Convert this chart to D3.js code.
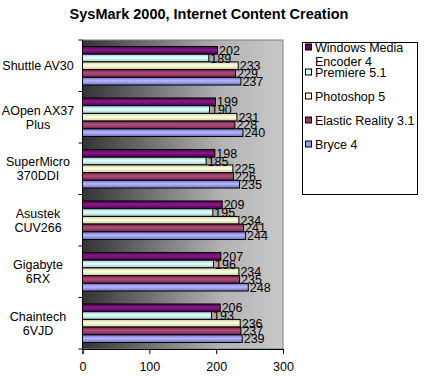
<!DOCTYPE html>
<html>
<head>
<meta charset="utf-8">
<script src="https://cdn.jsdelivr.net/npm/d3@7"></script>
<style>
  body { margin: 0; background: #fff; }
  text { font-family: "Liberation Sans", Arial, sans-serif; }
</style>
</head>
<body>
<div id="chart"></div>
<script>
// data
const boards = [["Shuttle AV30"], ["AOpen AX37", "Plus"], ["SuperMicro", "370DDI"],
                ["Asustek", "CUV266"], ["Gigabyte", "6RX"], ["Chaintech", "6VJD"]];
const series = ["Windows Media Encoder 4", "Premiere 5.1", "Photoshop 5", "Elastic Reality 3.1", "Bryce 4"];
const wme      = [202, 199, 198, 209, 207, 206];
const premiere = [189, 190, 185, 195, 196, 193];
const photoshop= [233, 231, 225, 234, 234, 236];
const elastic  = [229, 228, 226, 241, 235, 237];
const bryce    = [237, 240, 235, 244, 248, 239];
const xTicks = [0, 100, 200, 300];

const values = [wme, premiere, photoshop, elastic, bryce];
const colors = ["#660066", "#ccffff", "#ffffcc", "#993366", "#9999ff"];
const dark   = ["#4a004a", "#99cccc", "#cccc99", "#6e2449", "#6f6fc0"];
const light  = ["#8a1a8a", "#eaffff", "#ffffe8", "#b34d80", "#b8b8ff"];

const W = 424, H = 377;
const plot = {left: 82.5, right: 283, top: 40, bottom: 349};

const svg = d3.select("#chart").append("svg")
    .attr("width", W).attr("height", H);

const defs = svg.append("defs");
const bg = defs.append("linearGradient").attr("id", "bg")
    .attr("x1", 0).attr("x2", 1).attr("y1", 0).attr("y2", 0);
bg.append("stop").attr("offset", "0%").attr("stop-color", "#333");
bg.append("stop").attr("offset", "70%").attr("stop-color", "#b4b4b4");
bg.append("stop").attr("offset", "100%").attr("stop-color", "#c8c8c8");

series.forEach((s, i) => {
  const g = defs.append("linearGradient").attr("id", "bar" + i)
      .attr("x1", 0).attr("x2", 0).attr("y1", 0).attr("y2", 1);
  g.append("stop").attr("offset", "0%").attr("stop-color", dark[i]);
  g.append("stop").attr("offset", "45%").attr("stop-color", light[i]);
  g.append("stop").attr("offset", "100%").attr("stop-color", dark[i]);
});

// title
svg.append("text")
    .attr("x", 209).attr("y", 19)
    .attr("text-anchor", "middle")
    .style("font-size", "14.5px").style("font-weight", "bold")
    .text("SysMark 2000, Internet Content Creation");

// scales
const x = d3.scaleLinear().domain([0, 300]).range([plot.left, plot.right]);
const y0 = d3.scaleBand().domain(d3.range(boards.length))
    .range([plot.top, plot.bottom]).padding(0);
const y1 = d3.scaleBand().domain(d3.range(series.length))
    .range([0, y0.bandwidth()]).paddingInner(0).paddingOuter(0.84);

// plot background
svg.append("rect")
    .attr("x", plot.left).attr("y", plot.top)
    .attr("width", plot.right - plot.left).attr("height", plot.bottom - plot.top)
    .attr("fill", "url(#bg)")
    .attr("stroke", "#808080");

// bars
const groups = svg.selectAll(".grp")
    .data(boards)
    .join("g")
    .attr("class", "grp")
    .attr("transform", (d, i) => `translate(0,${y0(i)})`);

groups.each(function(b, bi) {
  const g = d3.select(this);
  const rows = series.map((s, si) => ({si, v: values[si][bi]}));
  g.selectAll("rect")
    .data(rows)
    .join("rect")
    .attr("x", x(0))
    .attr("y", d => y1(d.si))
    .attr("width", d => x(d.v) - x(0))
    .attr("height", y1.bandwidth())
    .attr("fill", d => `url(#bar${d.si})`)
    .attr("stroke", "#000").attr("stroke-width", 1);
  g.selectAll("text")
    .data(rows)
    .join("text")
    .attr("x", d => x(d.v) + 1.5)
    .attr("y", d => y1(d.si) + y1.bandwidth() / 2 + 4.5)
    .style("font-size", "12.5px")
    .text(d => d.v);
});

// x axis
const xAxis = svg.append("g")
    .attr("transform", `translate(0,${plot.bottom})`)
    .call(d3.axisBottom(x).tickValues(xTicks).tickSize(5).tickPadding(8));
xAxis.select(".domain").attr("stroke", "#000");
xAxis.selectAll("text").style("font-size", "12.5px")
    .style("font-family", "'Liberation Sans', Arial, sans-serif");

// y axis: ticks at category boundaries
svg.append("line")
    .attr("x1", plot.left).attr("x2", plot.left)
    .attr("y1", plot.top).attr("y2", plot.bottom).attr("stroke", "#000");
svg.selectAll(".ytick")
    .data(d3.range(boards.length + 1))
    .join("line")
    .attr("x1", plot.left - 4).attr("x2", plot.left)
    .attr("y1", i => i < boards.length ? y0(i) : plot.bottom)
    .attr("y2", i => i < boards.length ? y0(i) : plot.bottom)
    .attr("stroke", "#000");

// category labels
svg.selectAll(".cat")
    .data(boards)
    .join("text")
    .attr("class", "cat")
    .attr("text-anchor", "middle")
    .attr("x", 38)
    .attr("y", (d, i) => y0(i) + y0.bandwidth() / 2 + 4.5 - (d.length - 1) * 7)
    .style("font-size", "12.5px")
    .selectAll("tspan")
    .data(d => d)
    .join("tspan")
    .attr("x", 38)
    .attr("dy", (d, i) => i === 0 ? 0 : 14)
    .text(d => d);

// legend
const leg = svg.append("g");
leg.append("rect")
    .attr("x", 302.5).attr("y", 42.5).attr("width", 115).attr("height", 152)
    .attr("fill", "#fff").attr("stroke", "#000");
const legY = [47, 72, 96, 120, 144];
const legLines = [["Windows Media", "Encoder 4"], ["Premiere 5.1"], ["Photoshop 5"],
                  ["Elastic Reality 3.1"], ["Bryce 4"]];
legLines.forEach((lines, i) => {
  leg.append("rect")
      .attr("x", 305.5).attr("y", legY[i] - 3).attr("width", 6).attr("height", 6)
      .attr("fill", colors[i]).attr("stroke", "#000");
  lines.forEach((t, k) => {
    leg.append("text")
        .attr("x", 315).attr("y", legY[i] + 4.5 + k * 14)
        .style("font-size", "12.5px")
        .text(t);
  });
});
</script>
</body>
</html>
